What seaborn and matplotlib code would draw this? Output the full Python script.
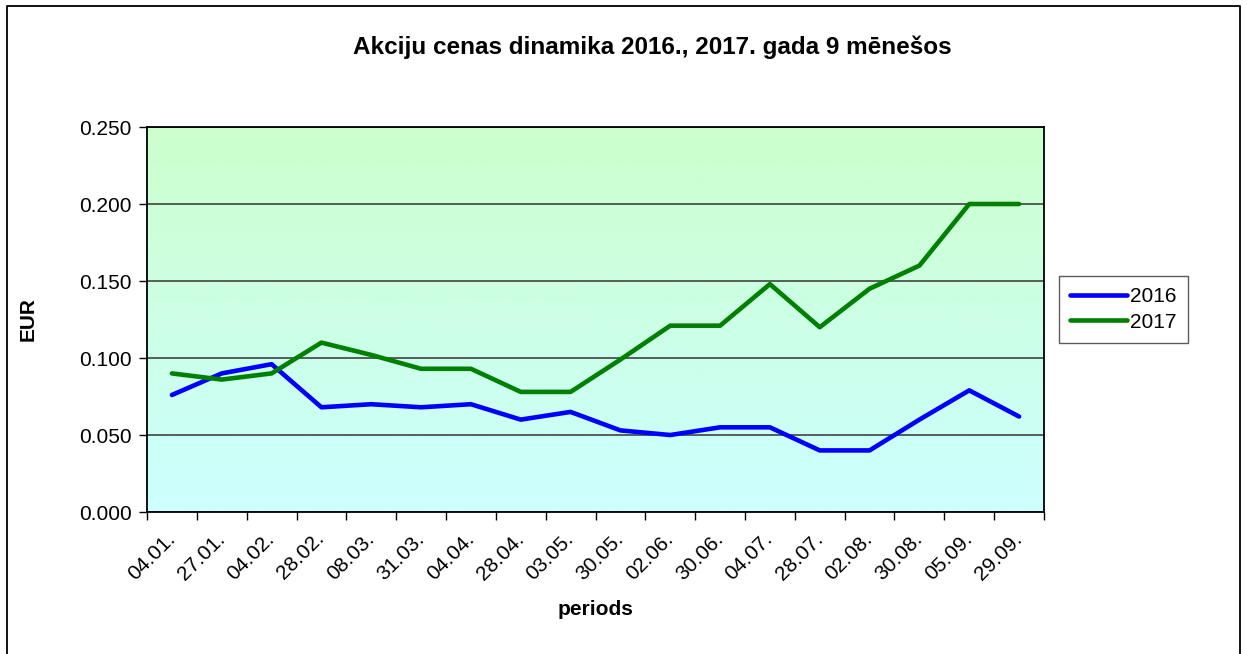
import numpy as np
import pandas as pd
import matplotlib
matplotlib.use("Agg")
import matplotlib.pyplot as plt
import seaborn as sns
from matplotlib.lines import Line2D
from matplotlib.ticker import FixedLocator, MultipleLocator, FormatStrFormatter

periods = ["04.01.", "27.01.", "04.02.", "28.02.", "08.03.", "31.03.", "04.04.",
           "28.04.", "03.05.", "30.05.", "02.06.", "30.06.", "04.07.", "28.07.",
           "02.08.", "30.08.", "05.09.", "29.09."]
price_2016 = [0.076, 0.090, 0.096, 0.068, 0.070, 0.068, 0.070, 0.060, 0.065,
              0.053, 0.050, 0.055, 0.055, 0.040, 0.040, 0.060, 0.079, 0.062]
price_2017 = [0.090, 0.086, 0.090, 0.110, 0.102, 0.093, 0.093, 0.078, 0.078,
              0.099, 0.121, 0.121, 0.148, 0.120, 0.145, 0.160, 0.200, 0.200]
years = ["2016", "2017"]
colors = {"2016": "#0000ff", "2017": "#008000"}

df = pd.DataFrame({
    "periods": periods * 2,
    "EUR": price_2016 + price_2017,
    "year": [years[0]] * len(periods) + [years[1]] * len(periods),
})

sns.set_style("white")
plt.rcParams["font.family"] = ["Liberation Sans", "DejaVu Sans"]
plt.rcParams["text.color"] = "black"
plt.rcParams["axes.labelcolor"] = "black"
plt.rcParams["xtick.color"] = "black"
plt.rcParams["ytick.color"] = "black"

fig = plt.figure(figsize=(12.47, 6.54), dpi=100)
ax = fig.add_axes([0.1179, 0.2171, 0.8372 - 0.1179, 0.8058 - 0.2171])

# gradient background of the plot area (cyan at bottom -> pale green at top)
grad = np.linspace(0, 1, 256).reshape(-1, 1)
cmap = matplotlib.colors.LinearSegmentedColormap.from_list("bg", ["#ccffff", "#ccffcc"])
ax.imshow(grad, extent=[0, 1, 0, 1], transform=ax.transAxes, origin="lower",
          cmap=cmap, aspect="auto", zorder=0)

sns.lineplot(data=df, x="periods", y="EUR", hue="year", palette=colors,
             linewidth=3.3, sort=False, ax=ax, zorder=3)

ax.set_xlim(-0.5, len(periods) - 0.5)
ax.set_ylim(0, 0.25)
ax.yaxis.set_major_locator(MultipleLocator(0.05))
ax.yaxis.set_major_formatter(FormatStrFormatter("%.3f"))
ax.grid(axis="y", color="#333333", linewidth=1.1, zorder=1)
ax.set_axisbelow(True)

ax.set_xticks(range(len(periods)))
ax.set_xticklabels(periods, rotation=45, ha="right", va="center",
                   rotation_mode="anchor", fontsize=15)
ax.xaxis.set_minor_locator(FixedLocator(np.arange(-0.5, len(periods), 1)))
ax.tick_params(axis="x", which="major", length=0, pad=17)
ax.tick_params(axis="x", which="minor", length=6, width=1, color="black", direction="out", bottom=True)
ax.tick_params(axis="y", which="major", length=6, width=1, color="black", direction="out",
               left=True, labelsize=15, pad=5)

for side in ["left", "bottom", "top", "right"]:
    ax.spines[side].set_color("black")
    ax.spines[side].set_linewidth(1.3)
    ax.spines[side].set_visible(True)

ax.set_xlabel("periods", fontsize=15, fontweight="bold", labelpad=12)
ax.set_ylabel("EUR", fontsize=15, fontweight="bold", labelpad=30)

fig.text(652 / 1247, 1 - 47 / 654, "Akciju cenas dinamika 2016., 2017. gada 9 mēnešos",
         ha="center", va="center", fontsize=17.5, fontweight="bold")

leg = ax.legend(loc="upper left", bbox_to_anchor=(1.005, 0.64), frameon=True,
                fontsize=15, handlelength=2.7, handletextpad=0.15, borderpad=0.55,
                labelspacing=0.3, fancybox=False)
leg.get_frame().set_edgecolor("#333333")
leg.get_frame().set_linewidth(1.0)
leg.set_title(None)

# outer frame (left, top, right edges)
bx0, bx1, by1 = 7 / 1247, 1240 / 1247, 1 - 6 / 654
fig.lines.append(Line2D([bx0, bx0, bx1, bx1], [0, by1, by1, 0], transform=fig.transFigure,
                        color="black", linewidth=1.3))

fig.savefig("out.png", dpi=100)
